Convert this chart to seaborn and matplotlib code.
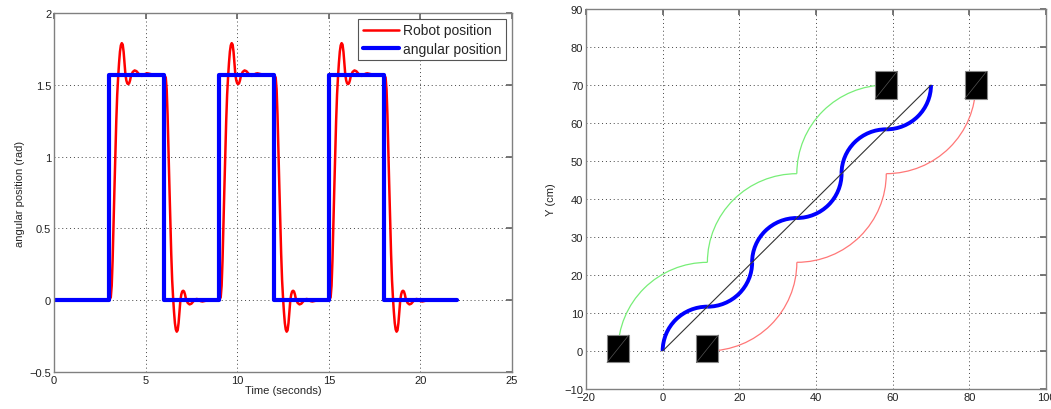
import numpy as np
import matplotlib
matplotlib.use('Agg')
import matplotlib.pyplot as plt
from matplotlib.patches import Arc, Rectangle
import seaborn as sns

# ---------------- left panel: command vs. robot response ----------------
HALF_PI = np.pi / 2
STEP_TIMES  = [3, 6, 9, 12, 15, 18]
STEP_LEVELS = [HALF_PI, 0, HALF_PI, 0, HALF_PI, 0]
T_END = 22

# robot response after one rising step (seconds after step, rad)
RESP_DT  = [0.0, 0.1, 0.15, 0.2, 0.25, 0.3, 0.35, 0.4, 0.45, 0.5, 0.55, 0.6,
            0.65, 0.7, 0.75, 0.8, 0.85, 0.9, 0.95, 1.0, 1.05, 1.1, 1.15, 1.2,
            1.3, 1.4, 1.5, 1.6, 1.7, 1.8, 1.9, 2.0, 2.1, 2.2, 2.4, 2.6, 3.0]
RESP_VAL = [0.0, 0.02, 0.1, 0.28, 0.52, 0.78, 1.03, 1.25, 1.43, 1.55, 1.65, 1.73,
            1.775, 1.79, 1.78, 1.73, 1.65, 1.57, 1.53, 1.51, 1.505, 1.51, 1.53, 1.56,
            1.59, 1.60, 1.595, 1.58, 1.565, 1.562, 1.568, 1.577, 1.58, 1.577, 1.571,
            1.5705, 1.5708]

X_TICKS_L = [0, 5, 10, 15, 20, 25]
Y_TICKS_L = [-0.5, 0, 0.5, 1, 1.5, 2]
Y_LABELS_L = ['\u22120.5', '0', '0.5', '1', '1.5', '2']

# ---------------- right panel: planned path ----------------
R_SMALL = 11.67
R_BIG = 23.33
BLUE_CX = [11.67, 11.67, 35, 35, 58.33, 58.33]
BLUE_CY = [0, 23.33, 23.33, 46.67, 46.67, 70]
BLUE_T1 = [90, 270, 90, 270, 90, 270]
BLUE_T2 = [180, 360, 180, 360, 180, 360]
GREEN_CX = [11.67, 35, 58.33]
GREEN_CY = [0, 23.33, 46.67]
RED_CX = [11.67, 35, 58.33]
RED_CY = [23.33, 46.67, 70]
LINE_X = [0, 70]
LINE_Y = [0, 70]
ROBOT_X = [-11.67, 11.67, 58.33, 81.67]
ROBOT_Y = [0.6, 0.6, 70, 70]

X_TICKS_R = [-20, 0, 20, 40, 60, 80, 100]
Y_TICKS_R = [-10, 0, 10, 20, 30, 40, 50, 60, 70, 80, 90]


def build_command():
    t, y = [0], [0]
    for ts, lvl in zip(STEP_TIMES, STEP_LEVELS):
        t += [ts, ts]
        y += [y[-1], lvl]
    t.append(T_END)
    y.append(y[-1])
    return t, y


def build_response():
    t, y = [0], [0]
    prev = 0
    for ts, lvl in zip(STEP_TIMES, STEP_LEVELS):
        sign = 1 if lvl > prev else -1
        for dt, v in zip(RESP_DT, RESP_VAL):
            t.append(ts + dt)
            y.append(prev + sign * v)
        prev = lvl
    t.append(T_END)
    y.append(prev)
    return t, y


def style_axes(ax):
    ax.set_axisbelow(True)
    ax.grid(True, linestyle=(0, (1, 3)), color='#444444', linewidth=0.7)
    ax.tick_params(direction='in', top=True, right=True, length=4,
                   color='#666666', labelsize=8, labelcolor='#222222', pad=2)
    for sp in ax.spines.values():
        sp.set_visible(True)
        sp.set_color('#808080')
        sp.set_linewidth(1)


sns.set_theme(style='white')
plt.rcParams['font.family'] = ['Liberation Sans', 'DejaVu Sans']

fig = plt.figure(figsize=(10.51, 4.10), dpi=100)
ax1 = fig.add_axes([54 / 1051, 1 - 373 / 410, 458 / 1051, 359 / 410])
ax2 = fig.add_axes([586 / 1051, 1 - 390 / 410, 460 / 1051, 380 / 410])

# left panel
t_r, y_r = build_response()
t_c, y_c = build_command()
sns.lineplot(x=t_r, y=y_r, color='#ff0000', linewidth=1.8, label='Robot position',
             sort=False, estimator=None, ax=ax1)
sns.lineplot(x=t_c, y=y_c, color='#0000ff', linewidth=3, label='angular position',
             sort=False, estimator=None, ax=ax1)
ax1.set_xlim(0, 25)
ax1.set_ylim(-0.5, 2)
ax1.set_xticks(X_TICKS_L)
ax1.set_yticks(Y_TICKS_L)
ax1.set_yticklabels(Y_LABELS_L)
ax1.set_xlabel('Time (seconds)', fontsize=8, labelpad=0)
ax1.set_ylabel('angular position (rad)', fontsize=8, labelpad=3)
style_axes(ax1)
leg = ax1.legend(loc='upper right', fancybox=False, edgecolor='#555555', framealpha=1,
                 fontsize=10, handlelength=2.6, borderaxespad=0.4, borderpad=0.35,
                 labelspacing=0.3, handletextpad=0.3)
leg.get_frame().set_linewidth(0.8)

# right panel
for cx, cy in zip(GREEN_CX, GREEN_CY):
    ax2.add_patch(Arc((cx, cy), 2 * R_BIG, 2 * R_BIG, theta1=90, theta2=180,
                      color='#77ee77', linewidth=0.9))
for cx, cy in zip(RED_CX, RED_CY):
    ax2.add_patch(Arc((cx, cy), 2 * R_BIG, 2 * R_BIG, theta1=270, theta2=360,
                      color='#ff7777', linewidth=0.9))
for cx, cy, a1, a2 in zip(BLUE_CX, BLUE_CY, BLUE_T1, BLUE_T2):
    ax2.add_patch(Arc((cx, cy), 2 * R_SMALL, 2 * R_SMALL, theta1=a1, theta2=a2,
                      color='#0000ff', linewidth=2.8))
sns.lineplot(x=LINE_X, y=LINE_Y, color='#333333', linewidth=0.8, ax=ax2)
for rx, ry in zip(ROBOT_X, ROBOT_Y):
    ax2.add_patch(Rectangle((rx - 2.85, ry - 3.6), 5.7, 7.2, facecolor='black',
                            edgecolor='#888888', linewidth=0.8, zorder=5))
    ax2.plot([rx - 2.85, rx + 2.85], [ry - 3.6, ry + 3.6], color='#555555',
             linewidth=0.5, zorder=6)
ax2.set_xlim(-20, 100)
ax2.set_ylim(-10, 90)
ax2.set_xticks(X_TICKS_R)
ax2.set_yticks(Y_TICKS_R)
ax2.set_xticklabels([str(v).replace('-', '\u2212') for v in X_TICKS_R])
ax2.set_yticklabels([str(v).replace('-', '\u2212') for v in Y_TICKS_R])
ax2.set_ylabel('Y (cm)', fontsize=8, labelpad=6)
style_axes(ax2)

fig.savefig('out.png', dpi=100, facecolor='white')
